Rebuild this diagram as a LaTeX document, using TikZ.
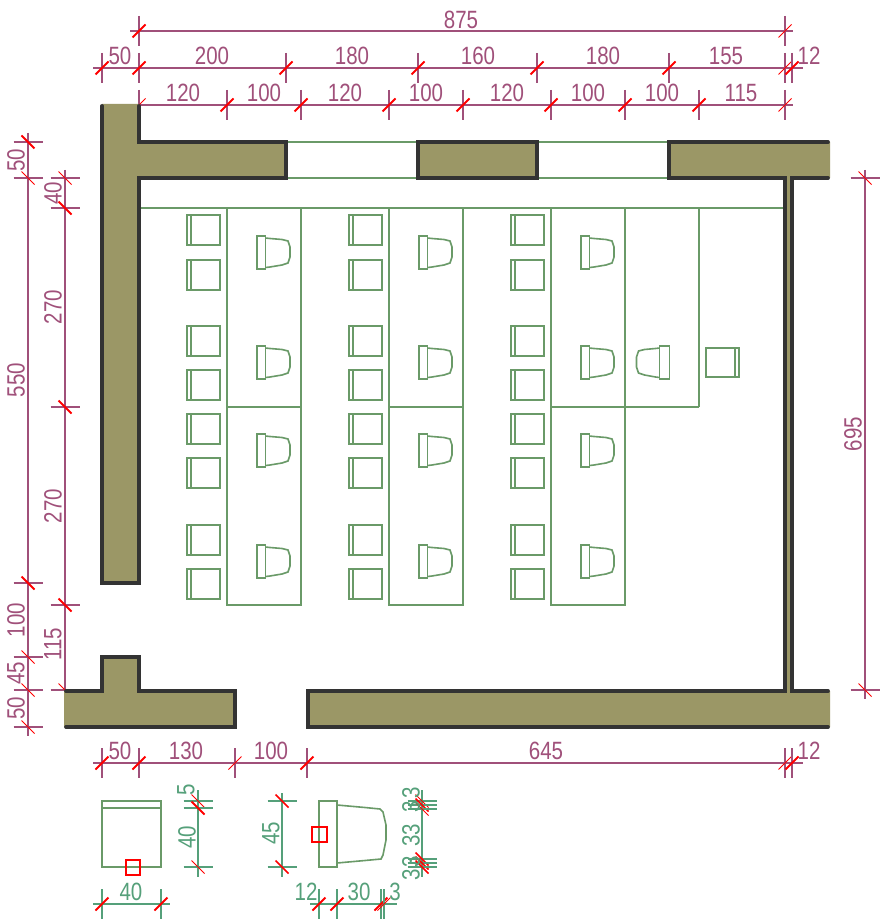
\documentclass[tikz,border=0pt]{standalone}
\usepackage{graphicx}
\usepackage{fontspec}
\setmainfont{Liberation Sans}
\definecolor{walloutline}{HTML}{333333}
\definecolor{wallfill}{HTML}{9B9766}
\definecolor{dimpurple}{HTML}{A0507A}
\definecolor{planline}{HTML}{6A9A68}
\definecolor{dimteal}{HTML}{55A07A}
\newcounter{labno}
\tikzset{
  wallline/.style={draw=walloutline,line width=3.8pt,line cap=round,line join=miter},
  wallarea/.style={fill=wallfill,draw=none},
  plan/.style={draw=planline,line width=1.6pt},
  redsquare/.style={draw=red,line width=1.8pt},
  dimtext/.style={inner sep=0pt,font=\fontsize{25}{25}\selectfont},
}
% horizontal dimension chain: colour, y, line start, line end, ticks x/tick width
\newcommand{\DimH}[5]{%
  \draw[#1,line width=1.6pt] (#3,#2) -- (#4,#2);
  \foreach \tx/\tw in {#5}{%
    \draw[#1,line width=1.6pt] (\tx,#2-15) -- (\tx,#2+15);
    \draw[red,line width=\tw pt] (\tx-6.5,#2+6.5) -- (\tx+6.5,#2-6.5);
  }%
}
% vertical dimension chain: colour, x, line start, line end, ticks y/tick width
\newcommand{\DimV}[5]{%
  \draw[#1,line width=1.6pt] (#2,#3) -- (#2,#4);
  \foreach \ty/\tw in {#5}{%
    \draw[#1,line width=1.6pt] (#2-14.5,\ty) -- (#2+14.5,\ty);
    \draw[red,line width=\tw pt] (#2-6.5,\ty-6.5) -- (#2+6.5,\ty+6.5);
  }%
}
% label: colour, x, y, angle, text
\newcommand{\Lab}[5]{%
  \stepcounter{labno}%
  \node[dimtext,text=#1,rotate=#4] (lab\thelabno) at (#2,#3) {\scalebox{.82}[1]{#5}};
}
% chair seen from the side with its back to the right
\newcommand{\SideChair}[2]{%
  \begin{scope}[shift={(#1,#2)}]
    \draw[plan] (0,0) rectangle (8.5,33);
    \draw[plan] (8.5,2) -- (13,2.5) -- (25,3.5) -- (31,5) -- (33,11) -- (33,21) -- (31,27) -- (25,29) -- (13,31) -- (8.5,31.5);
  \end{scope}%
}
% chair in plan
\newcommand{\SeatChair}[2]{%
  \draw[plan] (#1,#2) rectangle (#1+33,#2+30);
  \draw[plan] (#1+4,#2) -- (#1+4,#2+30);
}
\begin{document}
\begin{tikzpicture}[x=1pt,y=-1pt]
\useasboundingbox (0,0) rectangle (880,920);
\fill[white] (0,0) rectangle (880,920);

% plan: windows and room line
\draw[plan] (286,142) -- (418,142) (286,178) -- (418,178);
\draw[plan] (537,142) -- (669,142) (537,178) -- (669,178);
\draw[plan] (139,208) -- (785,208);

% desks
\foreach \dx in {227,389,551}{
  \draw[plan] (\dx,208) rectangle (\dx+74,605);
  \draw[plan] (\dx,407) -- (\dx+74,407);
}
\draw[plan] (625,208) -- (625,407) (699,208) -- (699,407) (625,407) -- (699,407);

% chairs
\foreach \cx in {187,349,511}{
  \foreach \cy in {215,260,326,370,414,458,525,569}{
    \SeatChair{\cx}{\cy}
  }
  \foreach \sy in {236,346,434,545}{
    \SideChair{\cx+70}{\sy}
  }
}
\begin{scope}[shift={(669.5,346)},xscale=-1]
  \draw[plan] (0,0) rectangle (10,33);
  \draw[plan] (10,2) -- (14,2.5) -- (25,3.5) -- (31,5) -- (33,11) -- (33,21) -- (31,27) -- (25,29) -- (14,31) -- (10,31.5);
\end{scope}
\draw[plan] (706,348) rectangle (739,377);
\draw[plan] (735,348) -- (735,377);

% dimensions, top
\DimH{dimpurple}{31}{130}{793}{139/2,785/1}
\DimH{dimpurple}{68}{93}{803}{102/2,139/2,286/2,418/2,537/2,669/2,785/1,792/2}
\DimH{dimpurple}{105}{139}{793}{139/1,227/2,301/2,389/2,463/2,551/2,625/2,699/2,785/1}
\Lab{dimpurple}{461}{20}{0}{875}
\Lab{dimpurple}{120}{56}{0}{50}
\Lab{dimpurple}{212}{56}{0}{200}
\Lab{dimpurple}{352}{56}{0}{180}
\Lab{dimpurple}{478}{56}{0}{160}
\Lab{dimpurple}{603}{56}{0}{180}
\Lab{dimpurple}{726}{56}{0}{155}
\Lab{dimpurple}{809}{56}{0}{12}
\Lab{dimpurple}{183}{93}{0}{120}
\Lab{dimpurple}{264}{93}{0}{100}
\Lab{dimpurple}{345}{93}{0}{120}
\Lab{dimpurple}{426}{93}{0}{100}
\Lab{dimpurple}{507}{93}{0}{120}
\Lab{dimpurple}{588}{93}{0}{100}
\Lab{dimpurple}{662}{93}{0}{100}
\Lab{dimpurple}{741}{93}{0}{115}

% dimensions, left
\DimV{dimpurple}{28}{133}{736}{142/2,178/1,583/2,657/1,690/1,727/1}
\DimV{dimpurple}{65}{170}{690}{178/1,208/2,407/2,605/2,690/1}
\Lab{dimpurple}{16}{160}{90}{50}
\Lab{dimpurple}{16}{380}{90}{550}
\Lab{dimpurple}{16}{620}{90}{100}
\Lab{dimpurple}{16}{673}{90}{45}
\Lab{dimpurple}{16}{708}{90}{50}
\Lab{dimpurple}{53}{193}{90}{40}
\Lab{dimpurple}{53}{307}{90}{270}
\Lab{dimpurple}{53}{506}{90}{270}
\Lab{dimpurple}{53}{644}{90}{115}

% dimension, right
\DimV{dimpurple}{865}{170}{699}{178/1,690/1}
\Lab{dimpurple}{853}{434}{90}{695}

% dimensions, bottom
\DimH{dimpurple}{763}{93}{803}{102/2,139/2,235/1,307/2,785/1,792/2}
\Lab{dimpurple}{120}{751}{0}{50}
\Lab{dimpurple}{186}{751}{0}{130}
\Lab{dimpurple}{271}{751}{0}{100}
\Lab{dimpurple}{546}{751}{0}{645}
\Lab{dimpurple}{809}{751}{0}{12}

% walls
\fill[wallarea] (102,104) -- (139,104) -- (139,142) -- (286,142) -- (286,178) -- (139,178) -- (139,583) -- (102,583) -- cycle;
\draw[wallline] (102,106) -- (102,583) -- (139,583) -- (139,178) -- (286,178) -- (286,142) -- (139,142) -- (139,106);
\fill[wallarea] (418,142) rectangle (537,178);
\draw[wallline] (418,142) rectangle (537,178);
\fill[wallarea] (830,142) -- (669,142) -- (669,178) -- (785,178) -- (785,691) -- (308,691) -- (308,727) -- (830,727) -- (830,691) -- (792,691) -- (792,178) -- (830,178) -- cycle;
\draw[wallline] (828,142) -- (669,142) -- (669,178) -- (785,178) -- (785,691) -- (308,691) -- (308,727) -- (828,727);
\draw[wallline] (828,691) -- (792,691) -- (792,178) -- (828,178);
\fill[wallarea] (64,691) -- (102,691) -- (102,657) -- (139,657) -- (139,691) -- (235,691) -- (235,727) -- (64,727) -- cycle;
\draw[wallline] (66,691) -- (102,691) -- (102,657) -- (139,657) -- (139,691) -- (235,691) -- (235,727) -- (66,727);

% legend: front view of chair
\draw[plan] (102,801) rectangle (161,867);
\draw[plan] (102,808) -- (161,808);
\draw[redsquare] (126,860) rectangle (140,875);
\DimV{dimteal}{198}{790}{877}{801/1,808/2,867/1}
\DimH{dimteal}{904}{93}{170}{102/2,161/2}
\Lab{dimteal}{186}{790}{90}{5}
\Lab{dimteal}{187}{837}{90}{40}
\Lab{dimteal}{131}{892}{0}{40}

% legend: side view of chair
\draw[plan] (319,801) rectangle (337,867);
\draw[plan] (337,805) -- (365,807.5) -- (380,809) -- (383,812) -- (386,825) -- (386,840) -- (383,855) -- (381,859) -- (365,860.5) -- (337,863);
\draw[redsquare] (312,827) rectangle (327,842);
\DimV{dimteal}{282}{793}{877}{801/1.6,867/1.6}
\DimV{dimteal}{422}{790}{877}{801/1,805/1.6,809/1,859/1.6,863/1.6,867/1.6}
\DimH{dimteal}{904}{310}{397}{319/2,337/2,381/2,384/1}
\Lab{dimteal}{271}{833}{90}{45}
\Lab{dimteal}{411}{793}{90}{3}
\Lab{dimteal}{411}{807}{90}{3}
\Lab{dimteal}{411}{835}{90}{33}
\Lab{dimteal}{411}{862}{90}{3}
\Lab{dimteal}{411}{875}{90}{3}
\Lab{dimteal}{306}{892}{0}{12}
\Lab{dimteal}{359}{892}{0}{30}
\Lab{dimteal}{395}{892}{0}{3}
\end{tikzpicture}
\end{document}
